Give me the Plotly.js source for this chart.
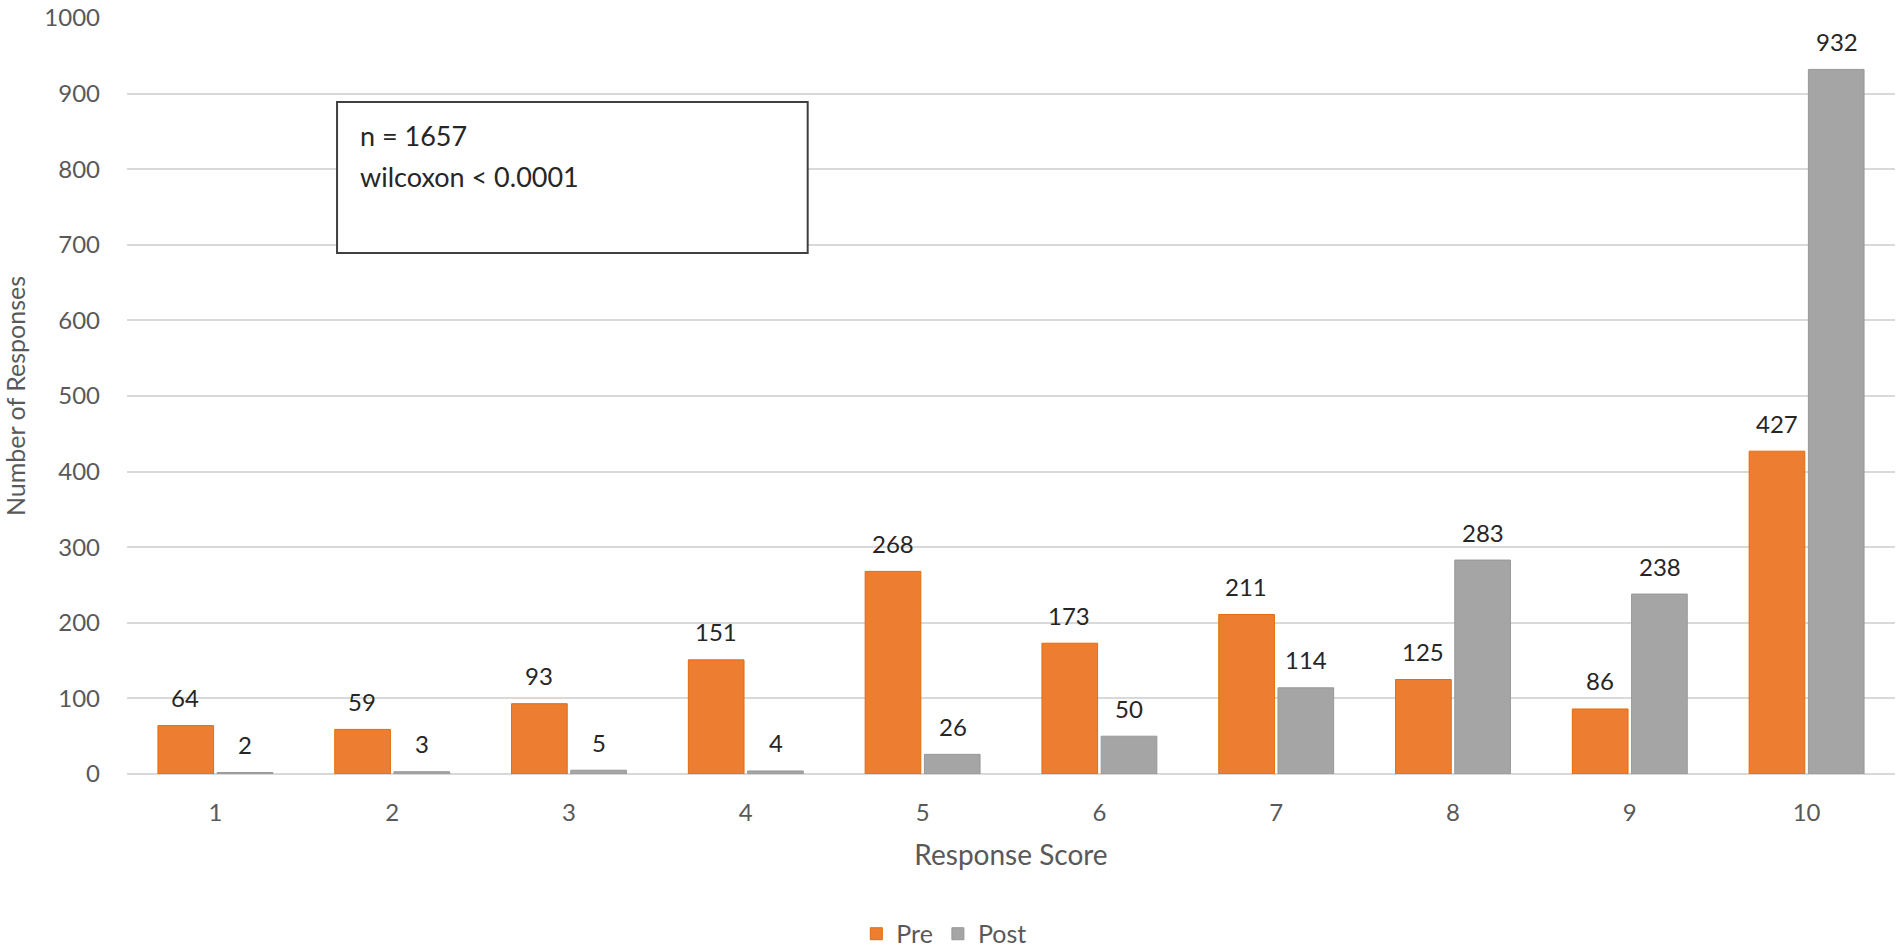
<!DOCTYPE html>
<html>
<head>
<meta charset="utf-8">
<script src="https://cdn.plot.ly/plotly-3.0.1.min.js"></script>
<style>html,body{margin:0;padding:0;background:#fff;}#chart{width:1902px;height:949px;}</style>
</head>
<body>
<div id="chart"></div>
<script>
const categories = ["1","2","3","4","5","6","7","8","9","10"];
const preValues = [64, 59, 93, 151, 268, 173, 211, 125, 86, 427];
const postValues = [2, 3, 5, 4, 26, 50, 114, 283, 238, 932];
const seriesNames = ["Pre", "Post"];
const yTicks = [0,100,200,300,400,500,600,700,800,900,1000];

const FONT = "Lato, 'Open Sans', sans-serif";
const preColor = "#ED7D31";
const postColor = "#A5A5A5";

const traces = [
  {type:"bar", name:seriesNames[0], x:categories, y:preValues,
   marker:{color:preColor, line:{color:"#E46C0A", width:1}}, hoverinfo:"x+y"},
  {type:"bar", name:seriesNames[1], x:categories, y:postValues,
   marker:{color:postColor, line:{color:"#989898", width:1}}, hoverinfo:"x+y"}
];

const annotations = [];
function addLabels(vals, shift){
  vals.forEach((v,i)=>{
    annotations.push({x:i, y:v, xref:"x", yref:"y", text:String(v),
      showarrow:false, xshift:shift, yshift:28, yanchor:"middle", xanchor:"center",
      font:{family:FONT, size:24, color:"#262626"}});
  });
}
addLabels(preValues, -30);
addLabels(postValues, 30);

annotations.push({xref:"paper", yref:"y", x:0.1307, y:844, xanchor:"left", yanchor:"middle",
  text:"n = 1657", showarrow:false, font:{family:FONT, size:27, color:"#262626"}});
annotations.push({xref:"paper", yref:"y", x:0.1307, y:791, xanchor:"left", yanchor:"middle",
  text:"wilcoxon < 0.0001", showarrow:false, font:{family:FONT, size:27, color:"#262626"}});

const layout = {
  width:1902, height:949,
  margin:{l:127, r:7, t:18, b:175, autoexpand:false},
  paper_bgcolor:"#fff", plot_bgcolor:"#fff",
  barmode:"group", bargap:0.33, bargroupgap:0.06,
  font:{family:FONT, size:24, color:"#595959"},
  xaxis:{type:"category", showgrid:false, zeroline:false, showline:false, ticks:"", automargin:false,
    ticklabelstandoff:22, tickfont:{family:FONT, size:24, color:"#595959"},
    title:{text:"Response Score", font:{family:FONT, size:28, color:"#595959"}, standoff:20}},
  yaxis:{range:[0,1000], tickvals:yTicks, showgrid:true, gridcolor:"#D9D9D9", gridwidth:2, automargin:false,
    zeroline:true, zerolinecolor:"#D9D9D9", zerolinewidth:2, showline:false, ticks:"",
    ticklabelstandoff:26, tickfont:{family:FONT, size:24, color:"#595959"},
    title:{text:"Number of Responses", font:{family:FONT, size:25, color:"#595959"}, standoff:15}},
  legend:{orientation:"h", x:0.462, xanchor:"center", y:-0.2116, yanchor:"middle",
    font:{family:FONT, size:25, color:"#595959"}, itemwidth:30, traceorder:"normal"},
  shapes:[{type:"rect", xref:"paper", yref:"y", x0:0.1188, x1:0.385, y0:689, y1:889,
    line:{color:"#404040", width:2}, fillcolor:"#ffffff", layer:"above"}],
  annotations:annotations
};

Plotly.newPlot("chart", traces, layout, {displayModeBar:false, staticPlot:true});
</script>
</body>
</html>
